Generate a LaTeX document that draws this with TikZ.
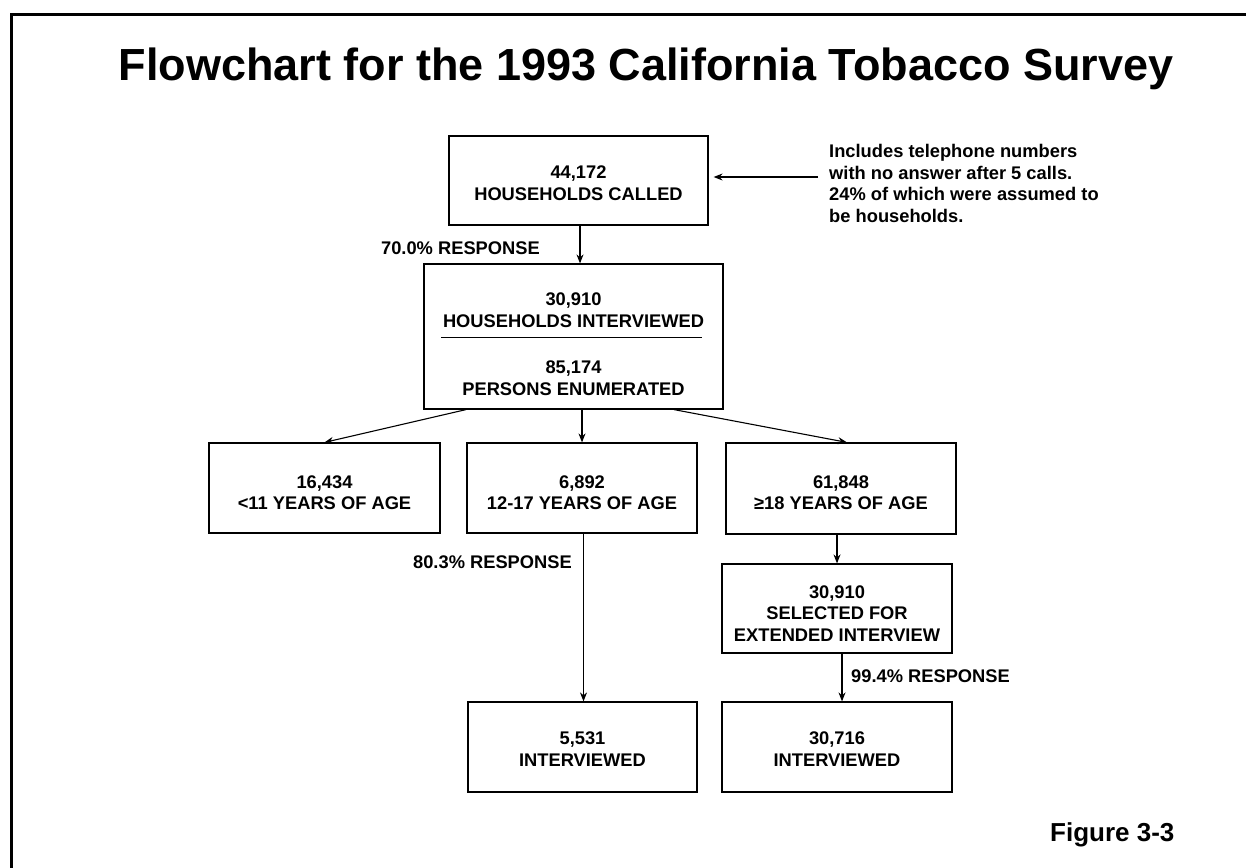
\documentclass[tikz,border=0pt]{standalone}
\usepackage{fontspec}
\setmainfont{Liberation Sans}
\usetikzlibrary{arrows.meta}
\begin{document}
\begin{tikzpicture}[x=1pt,y=-1pt,
  cbox/.style={draw, line width=1.2pt, rectangle, inner sep=0pt, minimum width=230pt, minimum height=90pt},
  txt/.style={inner sep=0pt, align=center, font=\bfseries\fontsize{18.3}{21.5}\selectfont},
  lbl/.style={inner sep=0pt, font=\bfseries\fontsize{18.3}{21.5}\selectfont},
  arr/.style={-{Stealth[length=9pt,width=7pt]}, line width=1.1pt}]
\useasboundingbox (0,0) rectangle (1246,867);
\begin{scope}
  \clip (0,0) rectangle (1246,867);
  \draw[line width=3.5pt] (11.5,14.5) rectangle (1280,900);
\end{scope}

% title
\node[anchor=base, inner sep=0pt, font=\bfseries\fontsize{45}{50}\selectfont] (title) at (646,80) {Flowchart for the 1993 California Tobacco Survey};

% boxes
\node[cbox, minimum width=259pt, minimum height=89pt] (b1) at (578.5,180.5) {};
\node[txt] (t1) at (578.5,183) {44,172\\HOUSEHOLDS CALLED};

\node[cbox, minimum width=299pt, minimum height=145pt] (b2) at (573.5,336.5) {};
\node[txt] (b2top) at (573.5,310) {30,910\\HOUSEHOLDS INTERVIEWED};
\node[txt] (b2bot) at (573.5,378) {85,174\\PERSONS ENUMERATED};
\draw[line width=1pt] (441,337) coordinate (sepL) -- (702,337) coordinate (sepR);

\node[cbox, minimum width=231pt] (bA) at (324.5,488) {};
\node[txt] (tA) at (324.5,492.5) {16,434\\<11 YEARS OF AGE};
\node[cbox] (bB) at (582,488) {};
\node[txt] (tB) at (582,492.5) {6,892\\12-17 YEARS OF AGE};
\node[cbox, minimum height=91pt] (bC) at (841,488.5) {};
\node[txt] (tC) at (841,492.5) {61,848\\≥18 YEARS OF AGE};
\node[cbox, minimum height=89pt] (bF) at (837,608.5) {};
\node[txt] (tF) at (837,613.5) {30,910\\SELECTED FOR\\EXTENDED INTERVIEW};
\node[cbox, minimum width=229pt] (bD) at (582.5,747) {};
\node[txt] (tD) at (582.5,749) {5,531\\INTERVIEWED};
\node[cbox] (bE) at (837,747) {};
\node[txt] (tE) at (837,749) {30,716\\INTERVIEWED};

% note
\node[lbl, align=left, anchor=west] (note) at (829,183.5) {Includes telephone numbers\\with no answer after 5 calls.\\24\% of which were assumed to\\be households.};
\coordinate (nA) at (818,177);

% labels
\node[lbl, anchor=east] (r70) at (540,248) {70.0\% RESPONSE};
\node[lbl, anchor=east] (r80) at (572,562) {80.3\% RESPONSE};
\node[lbl, anchor=west] (r99) at (851,676) {99.4\% RESPONSE};
\node[lbl, anchor=base west, font=\bfseries\fontsize{26}{30}\selectfont] (fig) at (1050,841) {Figure 3-3};

% connectors
\draw[arr, shorten >=5pt] (nA) -- (b1.east |- nA);
\draw[arr] ([xshift=1.5pt]b1.south) -- ([xshift=1.5pt]b1.south |- b2.north);
\draw[arr] ([xshift=-107.5pt]b2.south) -- (bA.north);
\draw[arr] ([xshift=8.5pt]b2.south) -- (bB.north);
\draw[arr] ([xshift=100.5pt]b2.south) -- ([xshift=6pt]bC.north);
\draw[arr] ([xshift=1.5pt]bB.south) -- ([xshift=1.5pt]bB.south |- bD.north);
\draw[arr] (bF.north |- bC.south) -- (bF.north);
\draw[arr] ([xshift=5pt]bF.south) -- ([xshift=5pt]bF.south |- bE.north);
\end{tikzpicture}
\end{document}
